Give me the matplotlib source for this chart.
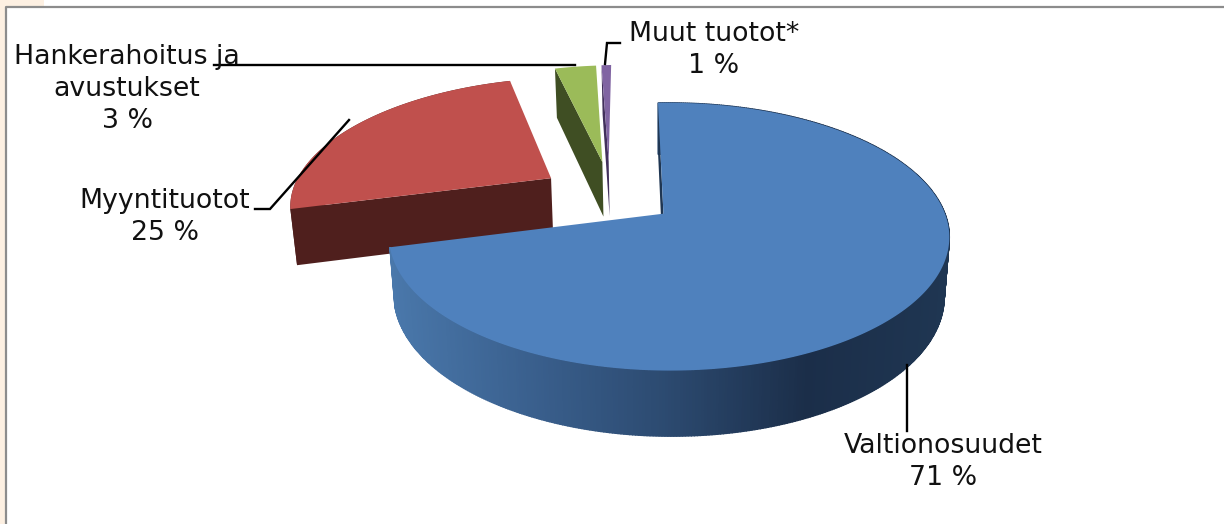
import numpy as np
import matplotlib
matplotlib.use('agg')
import matplotlib.pyplot as plt
from matplotlib.colors import LinearSegmentedColormap
from matplotlib.patches import Polygon, Rectangle

labels = ['Valtionosuudet', 'Myyntituotot', 'Hankerahoitus ja\navustukset', 'Muut tuotot*']
shares = [71.3, 25.0, 3.0, 0.7]
percent_labels = ['71 %', '25 %', '3 %', '1 %']

top_colors = ['#4f81bd', '#c0504d', '#9bbb59', '#8064a2']
side_colors = ['#2c4a70', '#4f1f1d', '#3f4e23', '#42305c']
explode = [0.22, 0.31, 0.30, 0.30]
side_shift = [0, 0.012, -0.015, -0.025]
START_ANGLE = -1.3

# perspective of the tilted pie, in image pixels
ORIGIN_X, ORIGIN_Y = 663, 214
RX, RY = 276, 130
PERSP = 0.172
PERSP_X = -0.02
DEPTH = 57.5
CONVERGE = 0.018
PIE_CENTER = (-0.174, 0.135)

side_cmap = LinearSegmentedColormap.from_list(
    'blue_side', ['#4a78ab', '#3a608e', '#2c4a70', '#1b2e49', '#1f3652'])


def project(u, v, drop=0.0):
    s = 1 / (1 + PERSP * v + PERSP_X * u)
    x = ORIGIN_X + RX * u * s
    # walls lean a little towards the middle as they go down
    x += (ORIGIN_X - x) * CONVERGE * drop / DEPTH
    return x, ORIGIN_Y - RY * v * s + drop * s ** 0.7


fig = plt.figure(figsize=(12.24, 5.24), dpi=100)
ax = fig.add_axes([0, 0, 1, 1])
ax.set_xlim(0, 1224)
ax.set_ylim(524, 0)
ax.axis('off')

# page background and chart frame
ax.add_patch(Rectangle((0, 0), 5, 524, color='#fdf0e2', lw=0))
ax.add_patch(Rectangle((0, 0), 44, 6, color='#fdf0e2', lw=0))
ax.plot([5.5, 5.5, 1224], [524, 6.5, 6.5], color='#8c8c8c', lw=1.6)

edges = np.radians(np.cumsum([0] + shares) * 3.6 + START_ANGLE)

# small slices first, the big blue one goes over them
for i in [1, 2, 3, 0]:
    start, end = edges[i], edges[i + 1]
    mid = (start + end) / 2
    off_u = PIE_CENTER[0] + explode[i] * np.sin(mid) + side_shift[i]
    off_v = PIE_CENTER[1] + explode[i] * np.cos(mid)
    thetas = np.linspace(start, end, 500 if i == 0 else 120)
    ru = off_u + np.sin(thetas)
    rv = off_v + np.cos(thetas)

    if i == 0:
        # outer wall with gradient
        for a in range(len(ru) - 1):
            pts = [project(ru[a], rv[a]), project(ru[a + 1], rv[a + 1]),
                   project(ru[a + 1], rv[a + 1], DEPTH), project(ru[a], rv[a], DEPTH)]
            tone = np.clip((948 - pts[0][0]) / 560, 0, 1)
            ax.add_patch(Polygon(pts, fc=side_cmap(1 - tone), ec=side_cmap(1 - tone), lw=1))
    elif i == 1:
        wall = [project(u, v) for u, v in zip(ru, rv)]
        wall += [project(u, v, DEPTH) for u, v in zip(ru[::-1], rv[::-1])]
        ax.add_patch(Polygon(wall, fc=side_colors[i], ec='none'))

    # straight cut face
    cut = [project(off_u, off_v), project(ru[0], rv[0]),
           project(ru[0], rv[0], DEPTH), project(off_u, off_v, DEPTH)]
    ax.add_patch(Polygon(cut, fc='#1f3652' if i == 0 else side_colors[i], ec='none'))

    top = [project(off_u, off_v)] + [project(u, v) for u, v in zip(ru, rv)]
    ax.add_patch(Polygon(top, fc=top_colors[i], ec='none'))

# leader lines
leader_kw = dict(color='black', lw=1.7, solid_joinstyle='miter')
ax.plot([907, 907], [365, 431], **leader_kw)
ax.plot([255, 270, 349], [209, 209, 120], **leader_kw)
ax.plot([214, 575], [65, 65], **leader_kw)
ax.plot([605, 607, 620], [64, 43, 43], **leader_kw)

text_kw = dict(ha='center', va='center', fontsize=19.3, color='#111111',
               family='DejaVu Sans', linespacing=1.29)
label_pos = [(943, 462), (165, 217), (127, 89), (714, 50)]
for name, pct, (x, y) in zip(labels, percent_labels, label_pos):
    ax.text(x, y, name + '\n' + pct, **text_kw)

fig.savefig('out.png', dpi=100)
plt.close(fig)
